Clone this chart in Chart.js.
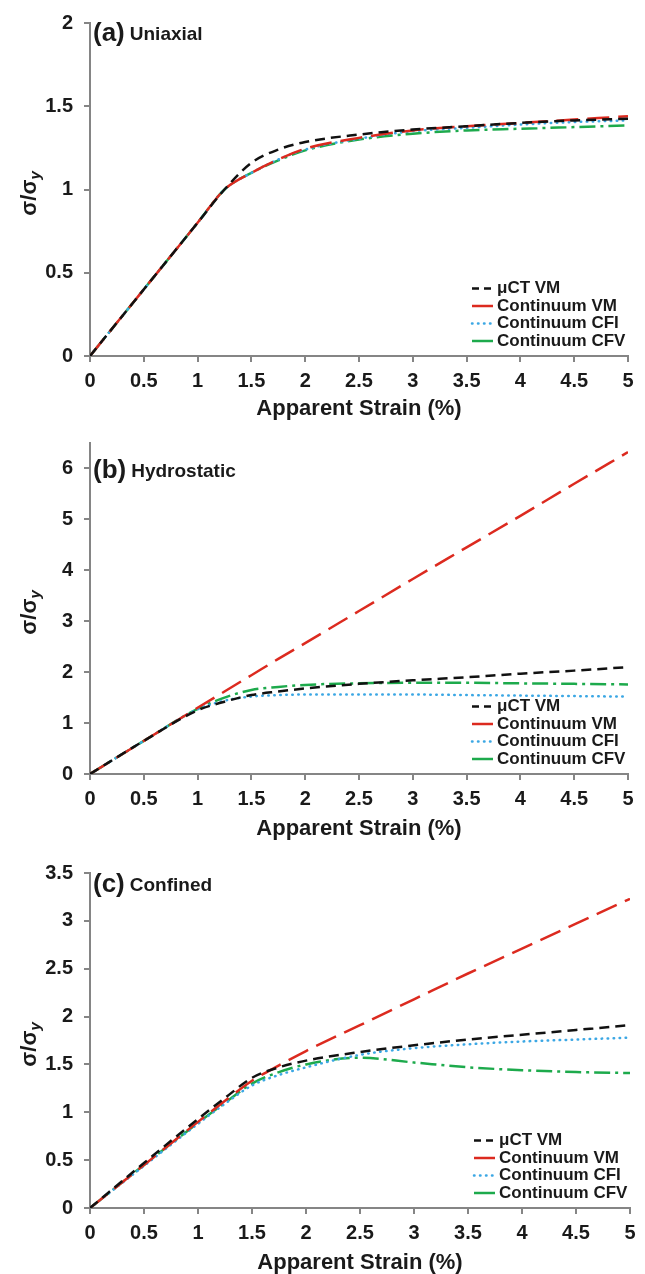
<!DOCTYPE html>
<html>
<head>
<meta charset="utf-8">
<script src="https://cdn.jsdelivr.net/npm/chart.js@4.4.1/dist/chart.umd.min.js"></script>
<style>
  html, body { margin: 0; padding: 0; background: #fff; }
  canvas { display: block; }
</style>
</head>
<body>
<canvas id="uniaxial" width="645" height="420"></canvas>
<canvas id="hydrostatic" width="645" height="420"></canvas>
<canvas id="confined" width="645" height="434"></canvas>
<script>
// apparent strain (%) sample points shared by every curve
const strain = [0, 0.5, 1, 1.25, 1.5, 1.75, 2, 2.5, 3, 3.5, 4, 4.5, 5];
const seriesNames = ['μCT VM', 'Continuum VM', 'Continuum CFI', 'Continuum CFV'];

// (a) uniaxial, sigma / sigma_y
const uniCtVM   = [0, 0.40, 0.80, 1.00, 1.16, 1.24, 1.285, 1.33, 1.36, 1.38, 1.40, 1.415, 1.425];
const uniContVM = [0, 0.40, 0.80, 1.00, 1.10, 1.18, 1.245, 1.31, 1.355, 1.38, 1.40, 1.42, 1.44];
const uniCFI    = [0, 0.40, 0.80, 1.00, 1.10, 1.18, 1.24, 1.305, 1.35, 1.37, 1.39, 1.405, 1.415];
const uniCFV    = [0, 0.40, 0.80, 1.00, 1.10, 1.175, 1.235, 1.30, 1.335, 1.355, 1.365, 1.375, 1.385];

// (b) hydrostatic
const hydCtVM   = [0, 0.65, 1.25, 1.42, 1.55, 1.62, 1.68, 1.77, 1.84, 1.90, 1.97, 2.03, 2.10];
const hydContVM = [0, 0.65, 1.30, 1.62, 1.94, 2.26, 2.57, 3.20, 3.83, 4.45, 5.07, 5.70, 6.32];
const hydCFI    = [0, 0.65, 1.27, 1.44, 1.52, 1.55, 1.56, 1.56, 1.56, 1.55, 1.54, 1.53, 1.52];
const hydCFV    = [0, 0.65, 1.28, 1.50, 1.65, 1.71, 1.75, 1.78, 1.79, 1.79, 1.78, 1.77, 1.76];

// (c) confined
const conCtVM   = [0, 0.47, 0.93, 1.15, 1.36, 1.47, 1.54, 1.63, 1.70, 1.76, 1.81, 1.86, 1.91];
const conContVM = [0, 0.45, 0.90, 1.12, 1.33, 1.49, 1.64, 1.91, 2.18, 2.45, 2.71, 2.97, 3.23];
const conCFI    = [0, 0.44, 0.88, 1.09, 1.28, 1.39, 1.47, 1.60, 1.67, 1.71, 1.74, 1.76, 1.78];
const conCFV    = [0, 0.45, 0.89, 1.10, 1.30, 1.42, 1.50, 1.57, 1.52, 1.47, 1.44, 1.42, 1.41];

const FONT = '"Liberation Sans", Arial, sans-serif';
const INK = '#1a1a1a';
const AXIS = '#858585';

const lineStyles = [
  { color: '#111111', dash: [10, 6], legendDash: [7, 5], cap: 'butt' },
  { color: '#dc2a1f', dash: [22, 9], legendDash: [], cap: 'butt' },
  { color: '#3ba7e4', dash: [0.5, 5.5], legendDash: [0.5, 5.5], cap: 'round' },
  { color: '#1daa4c', dash: [16, 5, 3, 5], legendDash: [], cap: 'butt' }
];

// panel label, rotated sigma/sigma_y title and the in-plot legend
const decor = {
  id: 'panelDecor',
  afterDraw(chart, args, opts) {
    const { ctx, chartArea: a } = chart;
    ctx.save();
    ctx.fillStyle = INK;
    ctx.textBaseline = 'middle';
    ctx.textAlign = 'left';

    const ty = a.top + opts.titleDy;
    ctx.font = 'bold 26px ' + FONT;
    ctx.fillText(opts.tag, a.left + 3, ty);
    const tw = ctx.measureText(opts.tag).width;
    ctx.font = 'bold 19px ' + FONT;
    ctx.fillText(opts.name, a.left + 3 + tw + 5, ty + 1);

    // legend
    const rowH = 17.5;
    const y0 = a.bottom - 15 - 3 * rowH;
    ctx.font = 'bold 17px ' + FONT;
    chart.data.datasets.forEach((ds, i) => {
      const y = y0 + i * rowH;
      const st = lineStyles[i];
      ctx.strokeStyle = st.color;
      ctx.lineWidth = 2.5;
      ctx.lineCap = st.cap;
      ctx.setLineDash(st.legendDash);
      ctx.beginPath();
      ctx.moveTo(a.right - 156, y);
      ctx.lineTo(a.right - 135, y);
      ctx.stroke();
      ctx.setLineDash([]);
      ctx.fillText(ds.label, a.right - 131, y);
    });

    // y axis title
    ctx.translate(30, (a.top + a.bottom) / 2 + 4);
    ctx.rotate(-Math.PI / 2);
    ctx.font = 'bold 22px ' + FONT;
    const main = 'σ/σ';
    const mw = ctx.measureText(main).width;
    ctx.font = 'italic bold 15px ' + FONT;
    const sw = ctx.measureText('y').width;
    const x0 = -(mw + sw) / 2;
    ctx.font = 'bold 22px ' + FONT;
    ctx.fillText(main, x0, 0);
    ctx.font = 'italic bold 15px ' + FONT;
    ctx.fillText('y', x0 + mw, 6);
    ctx.restore();
  }
};

function makeChart(id, p) {
  const datasets = p.series.map((vals, i) => ({
    label: seriesNames[i],
    data: strain.map((x, j) => ({ x, y: vals[j] })),
    borderColor: lineStyles[i].color,
    borderDash: lineStyles[i].dash,
    borderCapStyle: lineStyles[i].cap,
    borderWidth: 2.5,
    pointRadius: 0,
    cubicInterpolationMode: 'monotone',
    fill: false
  }));

  const tickFont = { family: FONT, size: 20, weight: 'bold' };
  const grid = { drawOnChartArea: false, drawTicks: true, tickLength: 6, color: AXIS, tickColor: AXIS, lineWidth: 2 };
  const border = { display: true, color: AXIS, width: 2 };
  const plain = v => String(v);

  return new Chart(document.getElementById(id), {
    type: 'line',
    data: { datasets },
    options: {
      responsive: false,
      animation: false,
      events: [],
      layout: { padding: { top: p.padTop, right: p.padRight, left: 0, bottom: 0 } },
      plugins: {
        legend: { display: false },
        tooltip: { enabled: false },
        panelDecor: { tag: p.tag, name: p.name, titleDy: p.titleDy }
      },
      scales: {
        x: {
          type: 'linear', min: 0, max: 5,
          ticks: { stepSize: 0.5, padding: 7, font: tickFont, color: INK, maxRotation: 0, callback: plain },
          grid, border,
          title: { display: true, text: 'Apparent Strain (%)', color: INK, padding: 0,
                   font: { family: FONT, size: 22, weight: 'bold', lineHeight: 1 } },
          afterFit: s => { s.height = p.xAxisH; }
        },
        y: {
          type: 'linear', min: 0, max: p.yMax,
          ticks: { stepSize: p.yStep, padding: 11, font: tickFont, color: INK, callback: plain },
          grid, border,
          afterBuildTicks: s => { s.ticks = s.ticks.filter(t => t.value <= p.yTop + 1e-9); },
          afterFit: s => { s.width = 90; }
        }
      }
    },
    plugins: [decor]
  });
}

makeChart('uniaxial', {
  series: [uniCtVM, uniContVM, uniCFI, uniCFV],
  tag: '(a)', name: 'Uniaxial', titleDy: 11,
  padTop: 20, padRight: 17, xAxisH: 64, yMax: 2, yTop: 2, yStep: 0.5
});
makeChart('hydrostatic', {
  series: [hydCtVM, hydContVM, hydCFI, hydCFV],
  tag: '(b)', name: 'Hydrostatic', titleDy: 28,
  padTop: 19, padRight: 17, xAxisH: 66, yMax: 6.5, yTop: 6, yStep: 1
});
makeChart('confined', {
  series: [conCtVM, conContVM, conCFI, conCFV],
  tag: '(c)', name: 'Confined', titleDy: 12,
  padTop: 33, padRight: 15, xAxisH: 66, yMax: 3.5, yTop: 3.5, yStep: 0.5
});
</script>
</body>
</html>
